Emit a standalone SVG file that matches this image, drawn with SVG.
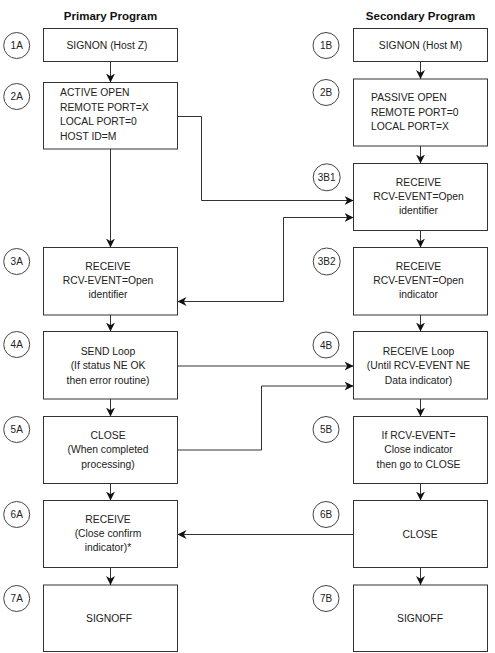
<svg xmlns="http://www.w3.org/2000/svg" width="495" height="653" viewBox="0 0 495 653">
<style>
.box{fill:#fff;stroke:#333;stroke-width:1}
.lbl{fill:#fff;stroke:#444;stroke-width:1}
.t{font-family:"Liberation Sans",Arial,sans-serif;font-size:11.5px;fill:#222;text-anchor:middle}
.tl{font-family:"Liberation Sans",Arial,sans-serif;font-size:11.5px;fill:#222}
.c{font-family:"Liberation Sans",Arial,sans-serif;font-size:10px;fill:#222;text-anchor:middle}
.h{font-family:"Liberation Sans",Arial,sans-serif;font-size:11.5px;font-weight:bold;fill:#111;text-anchor:middle}
.ln{fill:none;stroke:#333;stroke-width:1}
</style>
<defs>
<marker id="arr" viewBox="0 0 10 10" refX="10" refY="5" markerWidth="9" markerHeight="9" markerUnits="userSpaceOnUse" orient="auto-start-reverse">
<path d="M0,0 L10,5 L0,10 L3,5 z" fill="#111"/>
</marker>
</defs>
<rect width="495" height="653" fill="#fff"/>
<text class="h" x="110.5" y="20">Primary Program</text>
<text class="h" x="420.5" y="20">Secondary Program</text>

<g id="n1A"><rect class="box" x="43.5" y="28.5" width="134" height="33"/><circle class="lbl" cx="16.7" cy="45.5" r="13"/><text class="c" x="16.7" y="49">1A</text><g transform="translate(107,0) scale(0.9,1)"><text class="t" x="0" y="49.5">SIGNON (Host Z)</text></g></g>
<g id="n2A"><rect class="box" x="43.5" y="82.5" width="134" height="66.5"/><circle class="lbl" cx="16.7" cy="96.5" r="13"/><text class="c" x="16.7" y="100">2A</text><g transform="translate(60,0) scale(0.9,1)"><text class="tl" x="0" y="96.5">ACTIVE OPEN</text><text class="tl" x="0" y="111">REMOTE PORT=X</text><text class="tl" x="0" y="125.5">LOCAL PORT=0</text><text class="tl" x="0" y="140">HOST ID=M</text></g></g>
<g id="n3A"><rect class="box" x="43.5" y="247.5" width="134" height="67.5"/><circle class="lbl" cx="16.7" cy="261.5" r="13"/><text class="c" x="16.7" y="265">3A</text><g transform="translate(108,0) scale(0.9,1)"><text class="t" x="0" y="270.5">RECEIVE</text><text class="t" x="0" y="284.5">RCV-EVENT=Open</text><text class="t" x="0" y="298.5">identifier</text></g></g>
<g id="n4A"><rect class="box" x="43.5" y="331.5" width="134" height="67.5"/><circle class="lbl" cx="16.7" cy="344.5" r="13"/><text class="c" x="16.7" y="348">4A</text><g transform="translate(108,0) scale(0.9,1)"><text class="t" x="0" y="355">SEND Loop</text><text class="t" x="0" y="369.5">(If status NE OK</text><text class="t" x="0" y="384">then error routine)</text></g></g>
<g id="n5A"><rect class="box" x="43.5" y="416.5" width="134" height="67"/><circle class="lbl" cx="16.7" cy="429.5" r="13"/><text class="c" x="16.7" y="433">5A</text><g transform="translate(108,0) scale(0.9,1)"><text class="t" x="0" y="439.5">CLOSE</text><text class="t" x="0" y="453.5">(When completed</text><text class="t" x="0" y="468">processing)</text></g></g>
<g id="n6A"><rect class="box" x="43.5" y="500.5" width="134" height="67"/><circle class="lbl" cx="16.7" cy="514.5" r="13"/><text class="c" x="16.7" y="518">6A</text><g transform="translate(108,0) scale(0.9,1)"><text class="t" x="0" y="523">RECEIVE</text><text class="t" x="0" y="537">(Close confirm</text><text class="t" x="0" y="551.5">indicator)*</text></g></g>
<g id="n7A"><rect class="box" x="43.5" y="585" width="134" height="66.5"/><circle class="lbl" cx="16.7" cy="598.5" r="13"/><text class="c" x="16.7" y="602">7A</text><g transform="translate(109,0) scale(0.9,1)"><text class="t" x="0" y="622">SIGNOFF</text></g></g>

<g id="n1B"><rect class="box" x="353.5" y="28.5" width="134" height="33"/><circle class="lbl" cx="326" cy="45.5" r="13"/><text class="c" x="326" y="49">1B</text><g transform="translate(420.5,0) scale(0.9,1)"><text class="t" x="0" y="49.5">SIGNON (Host M)</text></g></g>
<g id="n2B"><rect class="box" x="353.5" y="79" width="134" height="67"/><circle class="lbl" cx="326" cy="92.5" r="13"/><text class="c" x="326" y="96">2B</text><g transform="translate(371,0) scale(0.9,1)"><text class="tl" x="0" y="101.5">PASSIVE OPEN</text><text class="tl" x="0" y="116">REMOTE PORT=0</text><text class="tl" x="0" y="130.5">LOCAL PORT=X</text></g></g>
<g id="n3B1"><rect class="box" x="353.5" y="163.5" width="134" height="67"/><circle class="lbl" cx="326.7" cy="177.3" r="13.5"/><text class="c" x="326.7" y="181">3B1</text><g transform="translate(418.5,0) scale(0.9,1)"><text class="t" x="0" y="186.5">RECEIVE</text><text class="t" x="0" y="200.5">RCV-EVENT=Open</text><text class="t" x="0" y="214.5">identifier</text></g></g>
<g id="n3B2"><rect class="box" x="353.5" y="247.5" width="134" height="67.5"/><circle class="lbl" cx="326.7" cy="261.5" r="13.5"/><text class="c" x="326.7" y="265">3B2</text><g transform="translate(418.5,0) scale(0.9,1)"><text class="t" x="0" y="270.5">RECEIVE</text><text class="t" x="0" y="284.5">RCV-EVENT=Open</text><text class="t" x="0" y="298.5">indicator</text></g></g>
<g id="n4B"><rect class="box" x="353.5" y="331.5" width="134" height="67.5"/><circle class="lbl" cx="326" cy="345" r="13"/><text class="c" x="326" y="348.5">4B</text><g transform="translate(418.5,0) scale(0.9,1)"><text class="t" x="0" y="355">RECEIVE Loop</text><text class="t" x="0" y="369.5">(Until RCV-EVENT NE</text><text class="t" x="0" y="384">Data indicator)</text></g></g>
<g id="n5B"><rect class="box" x="353.5" y="416.5" width="134" height="67"/><circle class="lbl" cx="326" cy="429.5" r="13"/><text class="c" x="326" y="433">5B</text><g transform="translate(418.5,0) scale(0.9,1)"><text class="t" x="0" y="439.5">If RCV-EVENT=</text><text class="t" x="0" y="453.5">Close indicator</text><text class="t" x="0" y="468">then go to CLOSE</text></g></g>
<g id="n6B"><rect class="box" x="353.5" y="500.5" width="134" height="67"/><circle class="lbl" cx="326" cy="514.5" r="13"/><text class="c" x="326" y="518">6B</text><g transform="translate(420,0) scale(0.9,1)"><text class="t" x="0" y="538">CLOSE</text></g></g>
<g id="n7B"><rect class="box" x="353.5" y="585" width="134" height="66.5"/><circle class="lbl" cx="326" cy="598.5" r="13"/><text class="c" x="326" y="602">7B</text><g transform="translate(420,0) scale(0.9,1)"><text class="t" x="0" y="622">SIGNOFF</text></g></g>

<g id="connectors">
<path class="ln" d="M110.5,61.5 V82.5" marker-end="url(#arr)"/>
<path class="ln" d="M110.5,149 V247.5" marker-end="url(#arr)"/>
<path class="ln" d="M110.5,315 V331.5" marker-end="url(#arr)"/>
<path class="ln" d="M110.5,399 V416.5" marker-end="url(#arr)"/>
<path class="ln" d="M110.5,483.5 V500.5" marker-end="url(#arr)"/>
<path class="ln" d="M110.5,567.5 V585" marker-end="url(#arr)"/>
<path class="ln" d="M420.5,61.5 V79" marker-end="url(#arr)"/>
<path class="ln" d="M420.5,146 V163.5" marker-end="url(#arr)"/>
<path class="ln" d="M420.5,230.5 V247.5" marker-end="url(#arr)"/>
<path class="ln" d="M420.5,315 V331.5" marker-end="url(#arr)"/>
<path class="ln" d="M420.5,399 V416.5" marker-end="url(#arr)"/>
<path class="ln" d="M420.5,483.5 V500.5" marker-end="url(#arr)"/>
<path class="ln" d="M420.5,567.5 V585" marker-end="url(#arr)"/>
<path class="ln" d="M177.5,116.5 H201.5 V200.5 H353.5" marker-end="url(#arr)"/>
<path class="ln" d="M177.5,301.5 H283.5 V217.5 H353.5" marker-start="url(#arr)" marker-end="url(#arr)"/>
<path class="ln" d="M177.5,366 H353.5" marker-end="url(#arr)"/>
<path class="ln" d="M177.5,450 H261.5 V386 H353.5" marker-end="url(#arr)"/>
<path class="ln" d="M353.5,534.5 H177.5" marker-end="url(#arr)"/>
</g>
</svg>
